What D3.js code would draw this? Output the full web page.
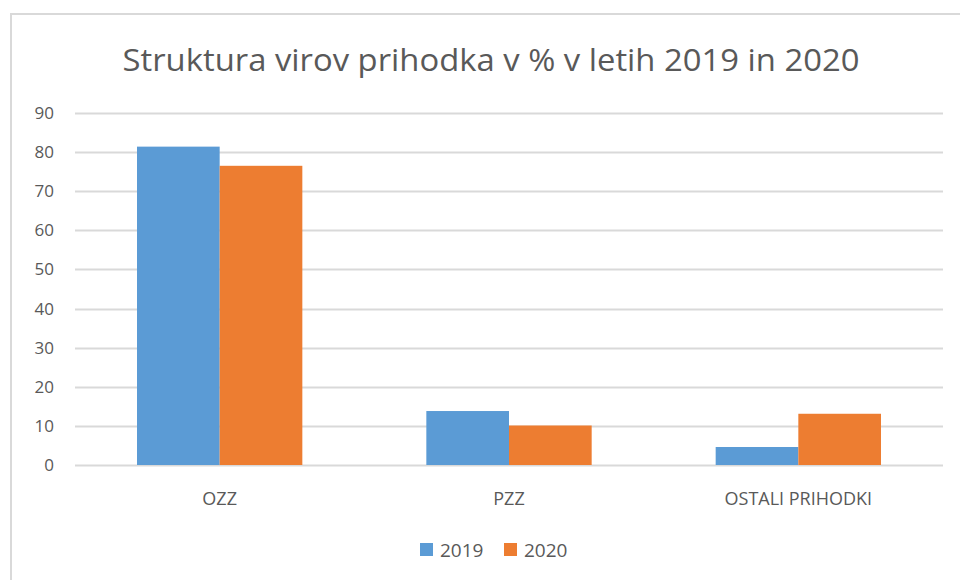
<!DOCTYPE html>
<html>
<head>
<meta charset="utf-8">
<script src="https://cdn.jsdelivr.net/npm/d3@7"></script>
<style>
  body { margin: 0; background: #fff; }
  text { font-family: "Open Sans", "Liberation Sans", sans-serif; fill: #595959; }
</style>
</head>
<body>
<div id="chart"></div>
<script>
// data
var categories = ["OZZ", "PZZ", "OSTALI PRIHODKI"];
var years = ["2019", "2020"];
var values2019 = [81.4, 13.8, 4.6];
var values2020 = [76.5, 10.1, 13.1];
var yTicks = [0, 10, 20, 30, 40, 50, 60, 70, 80, 90];
var colors = ["#5b9bd5", "#ed7d31"];

var W = 960, H = 580;
var margin = {top: 113, right: 17, bottom: 115, left: 75},
    width = W - margin.left - margin.right,
    height = H - margin.top - margin.bottom;

var svg = d3.select("#chart").append("svg")
    .attr("width", W)
    .attr("height", H);

// chart border (only top/left visible in the crop)
svg.append("rect")
    .attr("x", 11).attr("y", 14)
    .attr("width", 970).attr("height", 600)
    .attr("fill", "none")
    .attr("stroke", "#d9d9d9")
    .attr("stroke-width", 2);

// title
svg.append("text")
    .attr("x", 491).attr("y", 71)
    .attr("text-anchor", "middle")
    .attr("textLength", 737)
    .attr("lengthAdjust", "spacingAndGlyphs")
    .style("font-size", "31px")
    .text("Struktura virov prihodka v % v letih 2019 in 2020");

var g = svg.append("g")
    .attr("transform", "translate(" + margin.left + "," + margin.top + ")");

var y = d3.scaleLinear().domain([0, 90]).range([height, 0]);

var gap = 1.5 / 3.5;
var x0 = d3.scaleBand().domain(categories).range([0, width])
    .paddingInner(gap).paddingOuter(gap / 2);
var x1 = d3.scaleBand().domain(years).range([0, x0.bandwidth()]);

// gridlines
g.append("g").selectAll("line")
    .data(yTicks)
    .enter().append("line")
    .attr("x1", 0).attr("x2", width)
    .attr("y1", function(d) { return Math.round(y(d)) + 0.5; })
    .attr("y2", function(d) { return Math.round(y(d)) + 0.5; })
    .attr("stroke", "#d9d9d9")
    .attr("stroke-width", 2);

// y labels
var yAxis = g.append("g")
    .call(d3.axisLeft(y).tickValues(yTicks).tickSize(0).tickPadding(21));
yAxis.select(".domain").remove();
yAxis.selectAll("text")
    .style("font-size", "17px")
    .attr("fill", "#595959");

// bars
var rows = categories.map(function(c, i) {
    return {cat: c, vals: [values2019[i], values2020[i]]};
});

var groups = g.selectAll(".grp")
    .data(rows)
    .enter().append("g")
    .attr("class", "grp")
    .attr("transform", function(d) { return "translate(" + x0(d.cat) + ",0)"; });

groups.selectAll("rect")
    .data(function(d) { return d.vals.map(function(v, j) { return {year: years[j], v: v, j: j}; }); })
    .enter().append("rect")
    .attr("x", function(d) { return x1(d.year); })
    .attr("width", x1.bandwidth())
    .attr("y", function(d) { return y(d.v); })
    .attr("height", function(d) { return height - y(d.v); })
    .attr("fill", function(d) { return colors[d.j]; });

// category labels
var xAxis = g.append("g")
    .attr("transform", "translate(0," + height + ")")
    .call(d3.axisBottom(x0).tickSize(0).tickPadding(27));
xAxis.select(".domain").remove();
xAxis.selectAll("text")
    .style("font-size", "18px")
    .attr("fill", "#595959");

// legend
var legend = svg.append("g");
var lx = [420, 504];
years.forEach(function(yr, i) {
    legend.append("rect")
        .attr("x", lx[i]).attr("y", 543)
        .attr("width", 13).attr("height", 13)
        .attr("fill", colors[i]);
    legend.append("text")
        .attr("x", lx[i] + 20).attr("y", 557)
        .style("font-size", "19px")
        .text(yr);
});
</script>
</body>
</html>
